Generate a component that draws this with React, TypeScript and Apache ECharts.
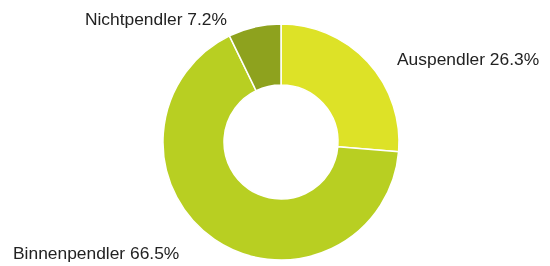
import React, { useEffect, useRef } from "react";
import * as echarts from "echarts";

const categories = ["Auspendler", "Binnenpendler", "Nichtpendler"];
const values = [26.3, 66.5, 7.2];
const colors = ["#dde227", "#b8cf22", "#8ea21e"];

const labelPos: { x: number; y: number; align: "left" | "right" }[] = [
  { x: 397, y: 58.5, align: "left" },
  { x: 13, y: 252.5, align: "left" },
  { x: 227, y: 18.5, align: "right" },
];

export default function App() {
  const ref = useRef<HTMLDivElement>(null);
  useEffect(() => {
    if (!ref.current) return;
    const chart = echarts.init(ref.current, undefined, { renderer: "svg" });
    chart.setOption({
      animation: false,
      series: [
        {
          type: "pie",
          center: [281, 142],
          radius: [57, 118],
          startAngle: 90,
          clockwise: true,
          itemStyle: { borderColor: "#fff", borderWidth: 1.5 },
          label: {
            show: true,
            formatter: (p: any) => `${p.name} ${p.value.toFixed(1)}%`,
            fontFamily: "Liberation Sans, Arial, sans-serif",
            fontSize: 17.4,
            color: "#222",
            overflow: "none",
            width: 300,
          },
          labelLine: { show: false },
          labelLayout: (params: any) => {
            const lp = labelPos[params.dataIndex];
            return {
              x: lp.x,
              y: lp.y,
              align: lp.align,
              verticalAlign: "middle",
            };
          },
          emphasis: { disabled: true },
          data: categories.map((c, i) => ({
            name: c,
            value: values[i],
            itemStyle: { color: colors[i] },
          })),
        },
      ],
    });
    return () => chart.dispose();
  }, []);
  return (
    <div
      ref={ref}
      style={{ position: "fixed", left: 0, top: 0, width: 550, height: 266 }}
    />
  );
}
